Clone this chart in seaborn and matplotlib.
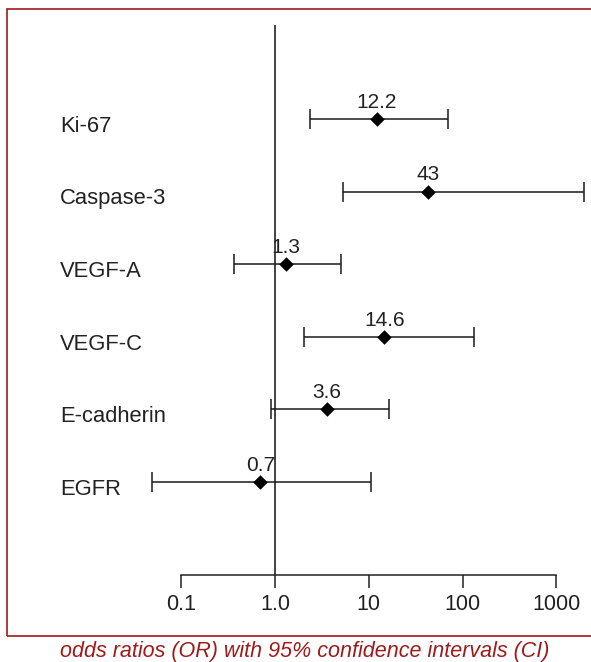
import matplotlib
matplotlib.use("Agg")
from matplotlib import pyplot as plt
from matplotlib import transforms
from matplotlib.patches import Rectangle
import numpy as np
import pandas as pd
import seaborn as sns

# Data
markers = ["Ki-67", "Caspase-3", "VEGF-A", "VEGF-C", "E-cadherin", "EGFR"]
odds_ratio = [12.2, 43, 1.3, 14.6, 3.6, 0.7]
ci_low = [2.35, 5.3, 0.37, 2.05, 0.9, 0.049]
ci_high = [70, 1950, 5.0, 132, 16.4, 10.6]
or_labels = ["12.2", "43", "1.3", "14.6", "3.6", "0.7"]
x_ticks = [0.1, 1, 10, 100, 1000]
x_ticklabels = ["0.1", "1.0", "10", "100", "1000"]

df = pd.DataFrame({"marker": markers, "OR": odds_ratio,
                   "lo": ci_low, "hi": ci_high, "pos": np.arange(len(markers))})

sns.set_style("white")
plt.rcParams['font.family'] = ['Liberation Sans', 'DejaVu Sans']

W, H = 591, 662
fig = plt.figure(figsize=(W / 100, H / 100), dpi=100)
# axes placed in pixel terms: left 140, right 591, top 25, bottom 575
ax = fig.add_axes([140 / W, 1 - 575 / H, (591 - 140) / W, (575 - 25) / H])

# confidence intervals
ax.errorbar(df["OR"], df["pos"],
            xerr=[df["OR"] - df["lo"], df["hi"] - df["OR"]],
            fmt="none", ecolor="#1a1a1a", elinewidth=1.1, capsize=7.5,
            capthick=1.1, clip_on=False, zorder=2)
sns.scatterplot(data=df, x="OR", y="pos", marker="D", color="black",
                s=55, edgecolor="black", linewidth=0, ax=ax, zorder=3,
                clip_on=False)

for _, r in df.iterrows():
    ax.text(r["OR"], r["pos"] - 0.1, or_labels[int(r["pos"])], ha="center",
            va="bottom", fontsize=15, color="#222222")

ax.set_xscale("log")
ax.set_xlim(10 ** -1.439, 10 ** 3.369)
ax.set_ylim(6.28, -1.295)
ax.axvline(1, color="#222222", lw=1.2, zorder=1)

ax.set_xticks(x_ticks)
ax.set_xticklabels(x_ticklabels, fontsize=15.5, color="#222222")
ax.xaxis.set_minor_locator(matplotlib.ticker.NullLocator())
ax.tick_params(axis="x", direction="out", length=9, width=1.1,
               color="#222222", pad=5, bottom=True)
ax.set_yticks([])
ax.set_xlabel("")
ax.set_ylabel("")
for s in ["left", "top", "right"]:
    ax.spines[s].set_visible(False)
ax.spines["bottom"].set_bounds(0.1, 1000)
ax.spines["bottom"].set_color("#222222")
ax.spines["bottom"].set_linewidth(1.1)

# row labels, left aligned in figure coordinates
trans = transforms.blended_transform_factory(fig.transFigure, ax.transData)
for i, m in enumerate(markers):
    ax.text(60 / W, i + 0.1, m, transform=trans, ha="left", va="center",
            fontsize=15.8, color="#222222", clip_on=False)

# dark red frame and caption
red = "#9e1b1b"
fig.patches.append(Rectangle((7 / W, 1 - 636 / H), 600 / W, (636 - 9) / H,
                             transform=fig.transFigure, fill=False,
                             edgecolor=red, lw=1.2))
fig.text(305 / W, 1 - 651 / H,
         "odds ratios (OR) with 95% confidence intervals (CI)",
         ha="center", va="center", fontsize=15.5, style="italic", color=red)

fig.savefig("out.png", dpi=100)
